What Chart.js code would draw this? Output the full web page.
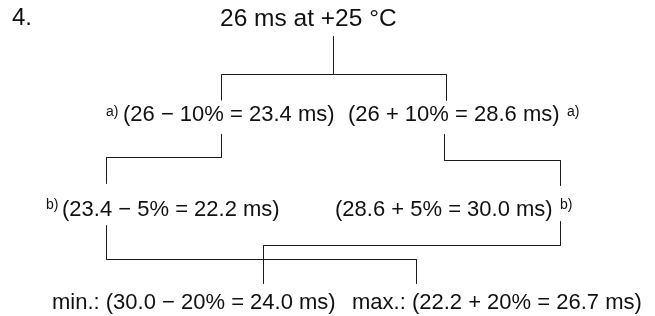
<!DOCTYPE html>
<html>
<head>
<meta charset="utf-8">
<script src="https://cdn.jsdelivr.net/npm/chart.js@4"></script>
<style>
  html, body { margin: 0; padding: 0; background: #fff; }
  #c { display: block; }
</style>
</head>
<body>
<canvas id="c" width="655" height="316"></canvas>
<script>
// ---- diagram data (in the diagram's own coordinate space, 0..655 x 0..316) ----
const stemX = [333, 333];            const stemY = [36, 74];
const topBarX = [221, 221, 446, 446]; const topBarY = [100, 74, 74, 100];
const leftABX = [221, 221, 106, 106]; const leftABY = [134, 157, 157, 183];
const rightABX = [444, 444, 560, 560]; const rightABY = [134, 160, 160, 185];
const leftMaxX = [106, 106, 416, 416]; const leftMaxY = [225, 259, 259, 283];
const rightMinX = [560, 560, 263, 263]; const rightMinY = [221, 245, 245, 283];

const labelTexts = [
  "4.",
  "26 ms at +25 °C",
  "(26 − 10% = 23.4 ms)",
  "(26 + 10% = 28.6 ms)",
  "(23.4 − 5% = 22.2 ms)",
  "(28.6 + 5% = 30.0 ms)",
  "min.: (30.0 − 20% = 24.0 ms)",
  "max.: (22.2 + 20% = 26.7 ms)"
];
const labelX = [12, 220, 123, 348, 62, 335, 52, 352];
const labelY = [25, 26, 121, 121, 216, 216, 309, 309];
const labelSize = [24, 24.5, 22, 22, 22, 22, 22, 22];

const noteTexts = ["a)", "a)", "b)", "b)"];
const noteX = [106, 567, 46, 560];
const noteY = [116, 116, 209, 209];

// ---- build datasets ----
function seg(xs, ys) {
  return {
    data: xs.map((x, i) => ({ x: x, y: ys[i] })),
    showLine: true,
    borderColor: '#1a1a1a',
    borderWidth: 1,
    pointRadius: 0,
    fill: false,
    tension: 0
  };
}
const datasets = [
  seg(stemX, stemY),
  seg(topBarX, topBarY),
  seg(leftABX, leftABY),
  seg(rightABX, rightABY),
  seg(leftMaxX, leftMaxY),
  seg(rightMinX, rightMinY)
];

const FONT = '"Liberation Sans", Arial, Helvetica, sans-serif';

const crisp = {
  id: 'crisp',
  beforeDatasetsDraw(chart) { chart.ctx.save(); chart.ctx.translate(0.5, 0.5); },
  afterDatasetsDraw(chart) { chart.ctx.restore(); }
};

const textPlugin = {
  id: 'texts',
  afterDraw(chart) {
    const ctx = chart.ctx;
    const xs = chart.scales.x, ys = chart.scales.y;
    ctx.save();
    ctx.fillStyle = '#111';
    ctx.textAlign = 'left';
    ctx.textBaseline = 'alphabetic';
    labelTexts.forEach((t, i) => {
      ctx.font = labelSize[i] + 'px ' + FONT;
      ctx.fillText(t, xs.getPixelForValue(labelX[i]), ys.getPixelForValue(labelY[i]));
    });
    ctx.font = '14px ' + FONT;
    noteTexts.forEach((t, i) => {
      ctx.fillText(t, xs.getPixelForValue(noteX[i]), ys.getPixelForValue(noteY[i]));
    });
    ctx.restore();
  }
};

new Chart(document.getElementById('c'), {
  type: 'scatter',
  data: { datasets: datasets },
  options: {
    responsive: false,
    animation: false,
    devicePixelRatio: 1,
    layout: { padding: 0 },
    plugins: { legend: { display: false }, tooltip: { enabled: false } },
    events: [],
    scales: {
      x: { type: 'linear', min: 0, max: 655, display: false },
      y: { type: 'linear', min: 0, max: 316, reverse: true, display: false }
    }
  },
  plugins: [crisp, textPlugin]
});
</script>
</body>
</html>
